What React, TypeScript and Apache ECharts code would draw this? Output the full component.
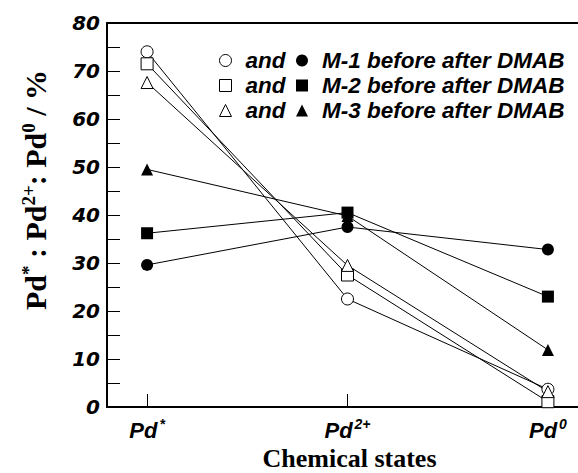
import React, { useEffect, useRef } from "react";
import * as echarts from "echarts";

const categoryBase = ["Pd", "Pd", "Pd"];
const categorySup = ["*", "2+", "0"];
const yTicks = [0, 10, 20, 30, 40, 50, 60, 70, 80];

const m1Before = [74, 22.5, 3.7];
const m1After = [29.6, 37.5, 32.8];
const m2Before = [71.5, 27.5, 1.1];
const m2After = [36.2, 40.5, 23];
const m3Before = [67.6, 29.5, 3.2];
const m3After = [49.5, 39.8, 11.9];

const legendOpenNames = ["M-1 before", "M-2 before", "M-3 before"];
const legendFilledNames = ["M-1 after DMAB", "M-2 after DMAB", "M-3 after DMAB"];
const legendFilledLabels = ["M-1 before after DMAB", "M-2 before after DMAB", "M-3 before after DMAB"];

const toPoints = (arr: number[]) => arr.map((v, i) => [i + 1, v]);

export default function App() {
  const ref = useRef<HTMLDivElement>(null);
  useEffect(() => {
    document.body.style.margin = "0";
    if (!ref.current) return;
    const chart = echarts.init(ref.current, null, { renderer: "svg" });
    const lineStyle = { color: "#000", width: 1 };
    const openStyle = { color: "#fff", borderColor: "#000", borderWidth: 1 };
    const filledStyle = { color: "#000", borderColor: "#000", borderWidth: 0 };
    const mk = (name: string, data: number[], symbol: string, open: boolean, z: number) => ({
      name,
      type: "line",
      data: toPoints(data),
      symbol,
      symbolSize: 12,
      lineStyle,
      itemStyle: open ? openStyle : filledStyle,
      z,
    });
    const legendFont = {
      fontFamily: "Liberation Sans, Arial, sans-serif",
      fontStyle: "italic",
      fontWeight: "bold",
      fontSize: 22.5,
      color: "#000",
      lineHeight: 25,
      padding: [0, 0, 0, 9],
    };
    const icons = ["circle", "rect", "triangle"];
    const option: any = {
      animation: false,
      backgroundColor: "#fff",
      grid: { left: 107, right: -10, top: 23, bottom: 66, outerBoundsMode: "none", containLabel: false },
      legend: [
        {
          orient: "vertical",
          left: 214,
          top: 43,
          itemWidth: 12,
          itemHeight: 12,
          itemGap: 0,
          selectedMode: false,
          data: legendOpenNames.map((n, i) => ({ name: n, icon: icons[i], itemStyle: openStyle })),
          formatter: () => "and",
          textStyle: legendFont,
        },
        {
          orient: "vertical",
          left: 291,
          top: 43,
          itemWidth: 12,
          itemHeight: 12,
          itemGap: 0,
          selectedMode: false,
          data: legendFilledNames.map((n, i) => ({ name: n, icon: icons[i], itemStyle: filledStyle })),
          formatter: (n: string) => legendFilledLabels[legendFilledNames.indexOf(n)],
          textStyle: legendFont,
        },
      ],
      xAxis: [
        {
          type: "value",
          position: "bottom",
          min: 0.8,
          max: 3.2,
          splitLine: { show: false },
          axisLine: { show: true, lineStyle: { color: "#000", width: 2 } },
          axisTick: { show: true, inside: true, length: 13, customValues: [1, 2, 3], lineStyle: { color: "#000", width: 1 } },
          axisLabel: {
            customValues: [1, 2, 3],
            margin: 10,
            formatter: (v: number) => {
              const i = Math.round(v) - 1;
              return `{b|${categoryBase[i]}}{s|${categorySup[i]}}`;
            },
            rich: {
              b: { fontFamily: "Liberation Sans, Arial, sans-serif", fontStyle: "italic", fontWeight: "bold", fontSize: 22, color: "#000", lineHeight: 26 },
              s: { fontFamily: "Liberation Sans, Arial, sans-serif", fontStyle: "italic", fontWeight: "bold", fontSize: 14, color: "#000", verticalAlign: "top", lineHeight: 14, padding: [0, 0, 0, 2] },
            },
          },
          name: "Chemical states",
          nameLocation: "middle",
          nameGap: 32,
          nameTextStyle: { fontFamily: "Liberation Serif, Times New Roman, serif", fontWeight: "bold", fontSize: 26, color: "#000", padding: [0, 0, 0, 4] },
        },
        {
          type: "value",
          position: "top",
          min: 0.8,
          max: 3.2,
          splitLine: { show: false },
          axisLine: { show: true, lineStyle: { color: "#000", width: 2 } },
          axisTick: { show: false },
          axisLabel: { show: false },
        },
      ],
      yAxis: {
        type: "value",
        min: 0,
        max: 80,
        interval: 10,
        splitLine: { show: false },
        axisLine: { show: true, lineStyle: { color: "#000", width: 2 } },
        axisTick: { show: true, inside: true, length: 13, lineStyle: { color: "#000", width: 1 } },
        minorTick: { show: true, splitNumber: 2, length: 13, lineStyle: { color: "#000", width: 1 } },
        axisLabel: {
          margin: 7,
          formatter: (v: number) => (yTicks.includes(v) ? String(v) : ""),
          fontFamily: "DejaVu Sans, Verdana, sans-serif",
          fontStyle: "italic",
          fontWeight: "bold",
          fontSize: 20,
          color: "#000",
        },
      },
      graphic: [
        {
          type: "text",
          x: 35,
          y: 190,
          rotation: Math.PI / 2,
          style: {
            text: "{b|Pd}{s|*}{b| : Pd}{s|2+}{b|: Pd}{s|0}{b| / %}",
            align: "center",
            verticalAlign: "middle",
            rich: {
              b: { fontFamily: "Liberation Serif, Times New Roman, serif", fontWeight: "bold", fontSize: 30, fill: "#000", lineHeight: 32 },
              s: { fontFamily: "Liberation Serif, Times New Roman, serif", fontWeight: "bold", fontSize: 19, fill: "#000", verticalAlign: "top", lineHeight: 19 },
            },
          },
        },
      ],
      series: [
        mk("M-1 before", m1Before, "circle", true, 3),
        mk("M-2 before", m2Before, "rect", true, 3),
        mk("M-3 before", m3Before, "triangle", true, 3),
        mk("M-3 after DMAB", m3After, "triangle", false, 2),
        mk("M-1 after DMAB", m1After, "circle", false, 2),
        mk("M-2 after DMAB", m2After, "rect", false, 2),
      ],
    };
    chart.setOption(option);
    return () => chart.dispose();
  }, []);
  return <div ref={ref} style={{ width: 578, height: 473 }} />;
}
